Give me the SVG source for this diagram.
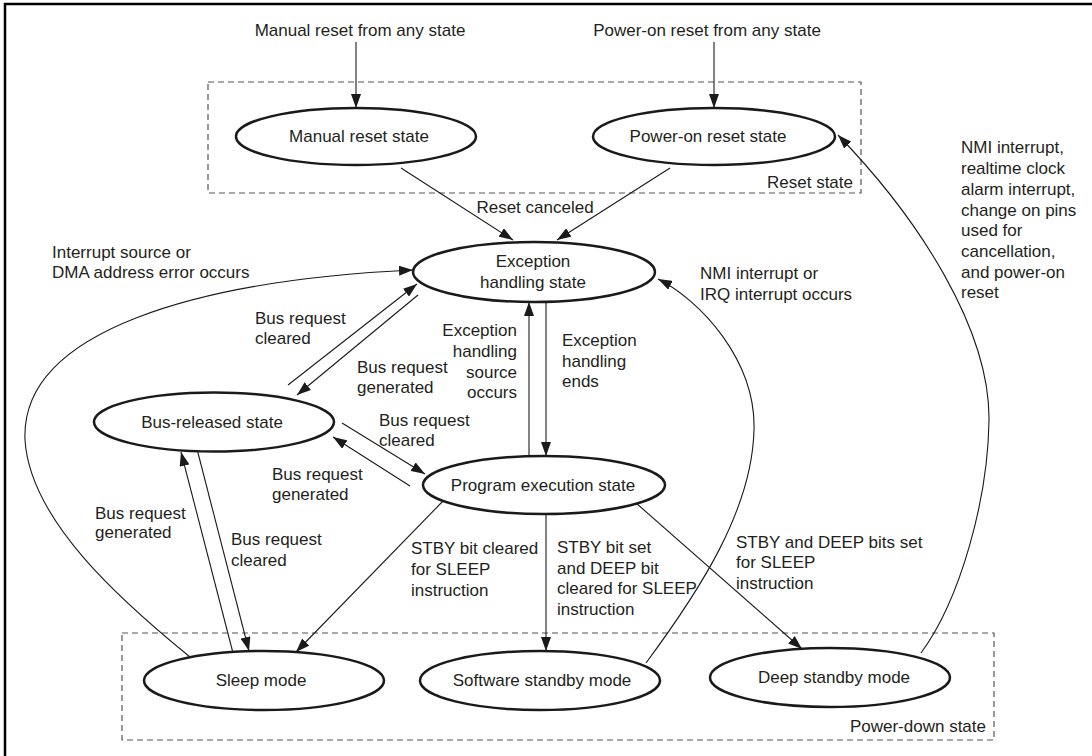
<svg xmlns="http://www.w3.org/2000/svg" width="1092" height="756" viewBox="0 0 1092 756">
<defs>
<marker id="ah" markerUnits="userSpaceOnUse" markerWidth="14" markerHeight="10" refX="14" refY="5" orient="auto"><path d="M0,0 L14,5 L0,10 z" fill="#1a1a1a"/></marker>
<style>
text{font-family:"Liberation Sans",Arial,sans-serif;font-size:17px;fill:#231f20}
.n ellipse{fill:#fff;stroke:#1a1a1a;stroke-width:2.5}
.c path,.c line{fill:none;stroke:#1a1a1a;stroke-width:1.1;marker-end:url(#ah)}
.grp{fill:none;stroke:#555;stroke-width:1.2;stroke-dasharray:6,4}
.m{text-anchor:middle}
.e{text-anchor:end}
</style>
</defs>
<rect width="1092" height="756" fill="#fff"/>
<path d="M5,757 V4 H1093" fill="none" stroke="#000" stroke-width="2.5"/>
<g id="reset-group"><rect class="grp" x="208" y="82" width="653" height="111"/><text class="e" x="853" y="188">Reset state</text></g>
<g id="powerdown-group"><rect class="grp" x="122" y="633" width="872" height="107"/><text class="e" x="986" y="732">Power-down state</text></g>
<g class="c" id="connectors">
<line x1="356" y1="42" x2="356" y2="108"/>
<line x1="714" y1="42" x2="714" y2="108"/>
<line x1="401" y1="168" x2="513" y2="240"/>
<line x1="670" y1="168" x2="557" y2="240"/>
<path d="M190,657 C120,600 30,520 25,440 C20,330 200,280 413,270"/>
<line x1="288" y1="385" x2="417" y2="284"/>
<line x1="418" y1="295" x2="297" y2="395"/>
<line x1="529" y1="455" x2="529" y2="302"/>
<line x1="546" y1="302" x2="546" y2="456"/>
<line x1="342" y1="423" x2="425" y2="474"/>
<line x1="410" y1="486" x2="333" y2="437"/>
<line x1="233" y1="653" x2="181" y2="452"/>
<line x1="197" y1="449" x2="249" y2="651"/>
<line x1="444" y1="500" x2="296" y2="652"/>
<line x1="546" y1="514" x2="546" y2="651"/>
<line x1="636" y1="503" x2="802" y2="649"/>
<path d="M646,663 C700,590 752,510 754,430 C756,360 700,300 658,279"/>
<path d="M921,653 C960,600 988,500 989,420 C990,330 920,220 838,135"/>
</g>
<g id="manual-reset" class="n"><ellipse cx="356" cy="136.5" rx="120" ry="28.5"/><text class="m" x="359" y="142">Manual reset state</text></g>
<g id="poweron-reset" class="n"><ellipse cx="714" cy="136.5" rx="121" ry="28.5"/><text class="m" x="708" y="142">Power-on reset state</text></g>
<g id="exception" class="n"><ellipse cx="534" cy="272" rx="121" ry="30"/><text class="m" x="533" y="267">Exception</text><text class="m" x="533" y="288">handling state</text></g>
<g id="bus-released" class="n"><ellipse cx="214" cy="422" rx="120" ry="29.5"/><text class="m" x="212" y="428">Bus-released state</text></g>
<g id="program" class="n"><ellipse cx="544" cy="485" rx="121" ry="29"/><text class="m" x="543" y="491">Program execution state</text></g>
<g id="sleep" class="n"><ellipse cx="264" cy="680.5" rx="120" ry="29.5"/><text class="m" x="261" y="686">Sleep mode</text></g>
<g id="software-standby" class="n"><ellipse cx="540" cy="680.5" rx="120" ry="29.5"/><text class="m" x="542" y="686">Software standby mode</text></g>
<g id="deep-standby" class="n"><ellipse cx="830" cy="677.5" rx="120" ry="29.5"/><text class="m" x="834" y="683">Deep standby mode</text></g>
<g id="labels">
<text class="m" x="360" y="36">Manual reset from any state</text>
<text class="m" x="707" y="36">Power-on reset from any state</text>
<text class="m" x="535" y="213">Reset canceled</text>
<text x="52" y="258">Interrupt source or</text><text x="52" y="278">DMA address error occurs</text>
<text x="255" y="324">Bus request</text><text x="255" y="344">cleared</text>
<text x="357" y="373">Bus request</text><text x="357" y="393">generated</text>
<text class="e" x="517" y="336">Exception</text><text class="e" x="517" y="357">handling</text><text class="e" x="517" y="378">source</text><text class="e" x="517" y="398">occurs</text>
<text x="562" y="346">Exception</text><text x="562" y="367">handling</text><text x="562" y="387">ends</text>
<text x="700" y="279">NMI interrupt or</text><text x="700" y="300">IRQ interrupt occurs</text>
<text x="379" y="426">Bus request</text><text x="379" y="446">cleared</text>
<text x="272" y="480">Bus request</text><text x="272" y="500">generated</text>
<text x="95" y="519">Bus request</text><text x="95" y="538">generated</text>
<text x="231" y="545">Bus request</text><text x="231" y="566">cleared</text>
<text x="411" y="554">STBY bit cleared</text><text x="411" y="575">for SLEEP</text><text x="411" y="596">instruction</text>
<text x="557" y="553">STBY bit set</text><text x="557" y="574">and DEEP bit</text><text x="557" y="594">cleared for SLEEP</text><text x="557" y="615">instruction</text>
<text x="736" y="548">STBY and DEEP bits set</text><text x="736" y="568">for SLEEP</text><text x="736" y="589">instruction</text>
<text x="961" y="153">NMI interrupt,</text><text x="961" y="174">realtime clock</text><text x="961" y="195">alarm interrupt,</text><text x="961" y="216">change on pins</text><text x="961" y="236">used for</text><text x="961" y="257">cancellation,</text><text x="961" y="278">and power-on</text><text x="961" y="298">reset</text>
</g>
</svg>
